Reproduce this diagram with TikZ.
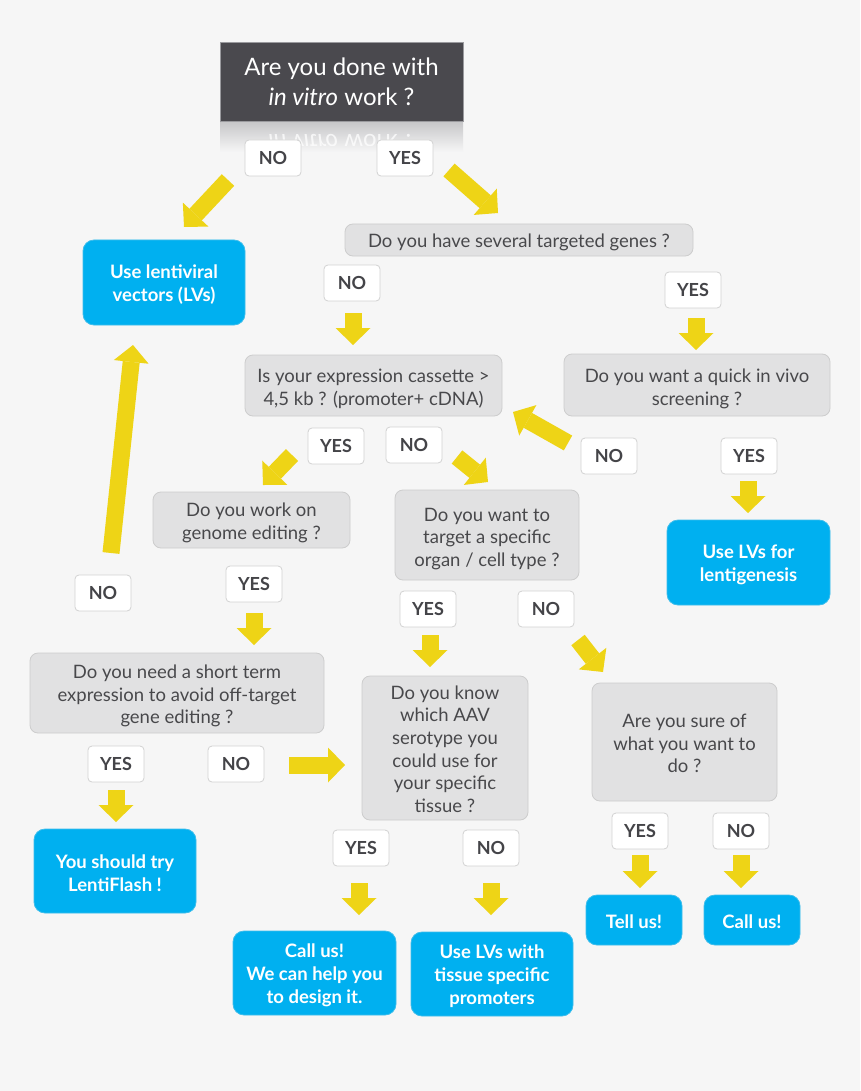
\documentclass[tikz,border=0pt]{standalone}
\usepackage{fontspec}
\setmainfont{Lato}
\usetikzlibrary{arrows.meta}
\definecolor{bg}{HTML}{F6F6F6}
\definecolor{dark}{HTML}{4A494E}
\definecolor{darkborder}{HTML}{9A9A9E}
\definecolor{refl}{HTML}{C4C4C6}
\definecolor{qgrey}{HTML}{E1E1E2}
\definecolor{qborder}{HTML}{CDCDCD}
\definecolor{qtext}{HTML}{48484B}
\definecolor{lvblue}{HTML}{00B0F0}
\definecolor{lvborder}{HTML}{3DBDEB}
\definecolor{yel}{HTML}{EED416}
\definecolor{labborder}{HTML}{D2D2D2}
\definecolor{labtext}{HTML}{444448}
\begin{document}
\begin{tikzpicture}[x=1pt,y=-1pt,
 q/.style={rectangle, rounded corners=8pt, fill=qgrey, draw=qborder, line width=0.8pt, inner sep=0pt},
 qt/.style={text=qtext, font=\fontsize{18.5}{22.6}\selectfont, align=center, inner sep=0pt, yshift=-3pt},
 lv/.style={rectangle, rounded corners=11pt, fill=lvblue, draw=lvborder, line width=0.8pt, inner sep=0pt},
 lt/.style={text=white, font=\bfseries\fontsize{18.5}{23}\selectfont, align=center, inner sep=0pt, yshift=-2.5pt},
 lab/.style={rectangle, rounded corners=4pt, fill=white, draw=labborder, line width=0.8pt, text=labtext, font=\bfseries\fontsize{18}{20}\selectfont, minimum width=56pt, minimum height=36pt, inner sep=0pt},
 ya/.style={draw=yel, line width=17pt, -{Triangle[width=35pt,length=17pt,line width=0pt]}},
 sz/.style n args={2}{minimum width=#1pt, minimum height=#2pt}
]
\useasboundingbox[fill=bg] (0,0) rectangle (860,1091);

% reflection under the top box
\shade[top color=refl, bottom color=bg] (220,120) rectangle (463,152);
\begin{scope}
 \clip (220,121) rectangle (463,146);
 \begin{scope}[shift={(341.5,143)}, yscale=-1]
  \node[transform shape, text=white, opacity=0.75, font=\fontsize{24}{30}\selectfont] (mir) at (0,0) {\textit{in vitro} work ?};
 \end{scope}
\end{scope}

% top question
\node[rectangle, fill=dark, draw=darkborder, line width=0.6pt, text=white, font=\fontsize{24}{30}\selectfont, align=center, inner sep=0pt, sz={243}{79}] (top) at (341.5,81.5) {Are you done with\\\textit{in vitro} work ?};

% question boxes
\node[q, sz={348}{32}, label={[qt, yshift=1pt]center:{Do you have several targeted genes ?}}] (genes) at (519,240) {};
\node[q, sz={257}{61}, label={[qt, yshift=-0.5pt]center:{Is your expression cassette >\\4,5 kb ? (promoter+ cDNA)}}] (cass) at (373.5,385.5) {};
\node[q, sz={266}{62}, label={[qt, yshift=-1pt]center:{Do you want a quick in vivo\\screening ?}}] (quick) at (697,385) {};
\node[q, sz={197}{56}, label={[qt]center:{Do you work on\\genome editing ?}}] (edit) at (251.5,520) {};
\node[q, sz={184}{90}, label={[qt, yshift=-1pt]center:{Do you want to\\target a specific\\organ / cell type ?}}] (organ) at (487,535) {};
\node[q, sz={294}{80}, label={[qt]center:{Do you need a short term\\expression to avoid off-target\\gene editing ?}}] (short) at (177,693) {};
\node[q, sz={166}{144}, label={[qt, yshift=2pt]center:{Do you know\\which AAV\\serotype you\\could use for\\your specific\\tissue ?}}] (aav) at (445,748) {};
\node[q, sz={185}{118}, label={[qt, yshift=1.5pt]center:{Are you sure of\\what you want to\\do ?}}] (sure) at (684.5,742) {};

% answer boxes
\node[lv, sz={162}{85}, label={[lt]center:{Use lentiviral\\vectors (LVs)}}] (lvs) at (164,282.5) {};
\node[lv, sz={163}{85}, label={[lt]center:{Use LVs for\\lentigenesis}}] (lenti) at (748.5,562.5) {};
\node[lv, sz={162}{84}, label={[lt, yshift=0.5pt]center:{You should try\\LentiFlash !}}] (flash) at (115,871) {};
\node[lv, sz={96}{50}, label={[lt, yshift=0.5pt]center:{Tell us!}}] (tell) at (634,920) {};
\node[lv, sz={96}{50}, label={[lt, yshift=0.5pt]center:{Call us!}}] (call) at (752,920) {};
\node[lv, sz={163}{84}, label={[lt]center:{Call us!\\We can help you\\to design it.}}] (help) at (314.5,973) {};
\node[lv, sz={162}{84}, label={[lt]center:{Use LVs with\\tissue specific\\promoters}}] (tissue) at (492,974) {};

% labels
\node[lab] (no1) at (273,158) {NO};
\node[lab] (yes1) at (405,158) {YES};
\node[lab] (no2) at (352,283) {NO};
\node[lab] (yes2) at (693,290) {YES};
\node[lab] (yes3) at (336,446) {YES};
\node[lab] (no3) at (414,445) {NO};
\node[lab] (no4) at (609,456) {NO};
\node[lab] (yes4) at (749,456) {YES};
\node[lab] (no5) at (103,593) {NO};
\node[lab] (yes5) at (254,584) {YES};
\node[lab] (yes6) at (428,609) {YES};
\node[lab] (no6) at (546,609) {NO};
\node[lab] (yes7) at (116,764) {YES};
\node[lab] (no7) at (236,764) {NO};
\node[lab] (yes8) at (361,848) {YES};
\node[lab] (no8) at (491,848) {NO};
\node[lab] (yes9) at (640,831) {YES};
\node[lab] (no9) at (741,831) {NO};

% arrow end points
\coordinate (a1s) at (228,180); \coordinate (a1e) at (184,227);
\coordinate (a2s) at (449,170); \coordinate (a2e) at (498,213);
\coordinate (a3s) at (353,313); \coordinate (a3e) at (353,345);
\coordinate (a4s) at (696,318); \coordinate (a4e) at (696,350);
\coordinate (a5s) at (568,443); \coordinate (a5e) at (513,412);
\coordinate (a6s) at (292,455); \coordinate (a6e) at (263,485);
\coordinate (a7s) at (457,457); \coordinate (a7e) at (488,482);
\coordinate (a8s) at (748,481); \coordinate (a8e) at (748,513);
\coordinate (a9s) at (111,553); \coordinate (a9e) at (133,345);
\coordinate (a10s) at (254,613); \coordinate (a10e) at (254,645);
\coordinate (a11s) at (430,635); \coordinate (a11e) at (430,667);
\coordinate (a12s) at (578,640); \coordinate (a12e) at (603,672);
\coordinate (a13s) at (289,765); \coordinate (a13e) at (345,765);
\coordinate (a14s) at (116,790); \coordinate (a14e) at (116,822);
\coordinate (a15s) at (359,883); \coordinate (a15e) at (359,915);
\coordinate (a16s) at (491,883); \coordinate (a16e) at (491,915);
\coordinate (a17s) at (640,855); \coordinate (a17e) at (640,888);
\coordinate (a18s) at (741,855); \coordinate (a18e) at (741,888);

\foreach \i in {1,...,18} {\draw[ya] (a\i s) -- (a\i e);}
\end{tikzpicture}
\end{document}
